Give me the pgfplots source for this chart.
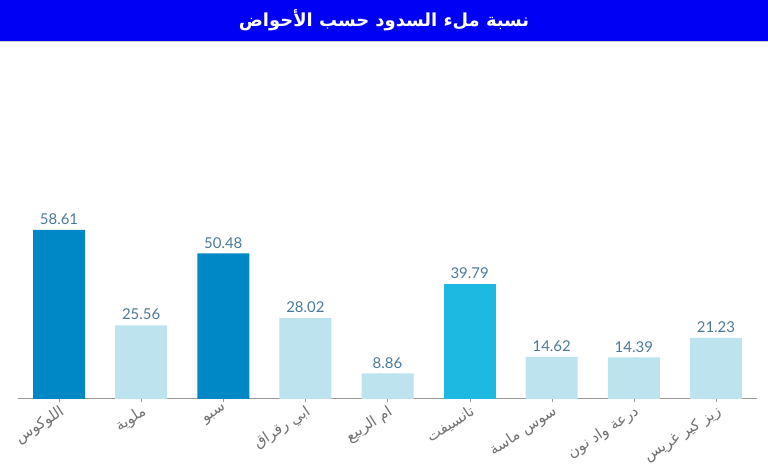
\documentclass[border=0pt]{standalone}
\usepackage{pgfplots}
\pgfplotsset{compat=1.18}
\usepackage{fontspec}
\setmainfont{Lato}
\newfontfamily\arabicfont[Script=Arabic]{DejaVu Sans}
\TeXXeTstate=1
\definecolor{titleblue}{HTML}{0000F5}
\definecolor{darkbar}{HTML}{0088C6}
\definecolor{lightbar}{HTML}{BDE3EF}
\definecolor{cyanbar}{HTML}{1DB9E0}
\definecolor{vallab}{HTML}{4A7A98}
\definecolor{ticklab}{HTML}{707070}
\begin{document}
\begin{tikzpicture}[x=1bp,y=1bp]
\path[use as bounding box] (0,0) rectangle (768,475);
\fill[titleblue] (0,434) rectangle (768,475);
\draw[gray!40, line width=1bp] (0,433.5) -- (768,433.5);
\node[text=white, font=\arabicfont\bfseries\fontsize{18}{21}\selectfont] at (384,455) {\beginR نسبة ملء السدود حسب الأحواض\endR};
\begin{axis}[
  at={(18bp,76bp)}, anchor=south west,
  scale only axis, width=739bp, height=349bp,
  xmin=-0.5, xmax=8.5, ymin=0, ymax=121,
  axis x line*=bottom, axis y line=none,
  axis line style={draw=black!40, line width=1bp},
  x axis line style={-},
  xtick={0,...,8},
  xticklabels={
    {\arabicfont\beginR اللوكوس\endR},
    {\arabicfont\beginR ملوية\endR},
    {\arabicfont\beginR سبو\endR},
    {\arabicfont\beginR ابي رقراق\endR},
    {\arabicfont\beginR ام الربيع\endR},
    {\arabicfont\beginR تانسيفت\endR},
    {\arabicfont\beginR سوس ماسة\endR},
    {\arabicfont\beginR درعة واد نون\endR},
    {\arabicfont\beginR زيز كير غريس\endR}},
  xticklabel style={rotate=33, anchor=north east, text=ticklab, font=\fontsize{15}{17}\selectfont, inner sep=1.5bp},
  major tick length=3bp, tick style={draw=black!40},
  xtick align=outside,
  /pgf/number format/assume math mode=true,
  every node near coord/.append style={text=vallab, font=\fontsize{15}{18}\selectfont, inner sep=5bp},
]
\addplot[ybar, bar width=52bp, bar shift=0pt, fill=darkbar, draw=none,
  nodes near coords, point meta=explicit symbolic]
  coordinates {(0,58.61)[58.61] (2,50.48)[50.48]};
\addplot[ybar, bar width=52bp, bar shift=0pt, fill=lightbar, draw=none,
  nodes near coords, point meta=explicit symbolic]
  coordinates {(1,25.56)[25.56] (3,28.02)[28.02] (4,8.86)[8.86] (6,14.62)[14.62] (7,14.39)[14.39] (8,21.23)[21.23]};
\addplot[ybar, bar width=52bp, bar shift=0pt, fill=cyanbar, draw=none,
  nodes near coords, point meta=explicit symbolic]
  coordinates {(5,39.79)[39.79]};
\end{axis}
\end{tikzpicture}
\end{document}
